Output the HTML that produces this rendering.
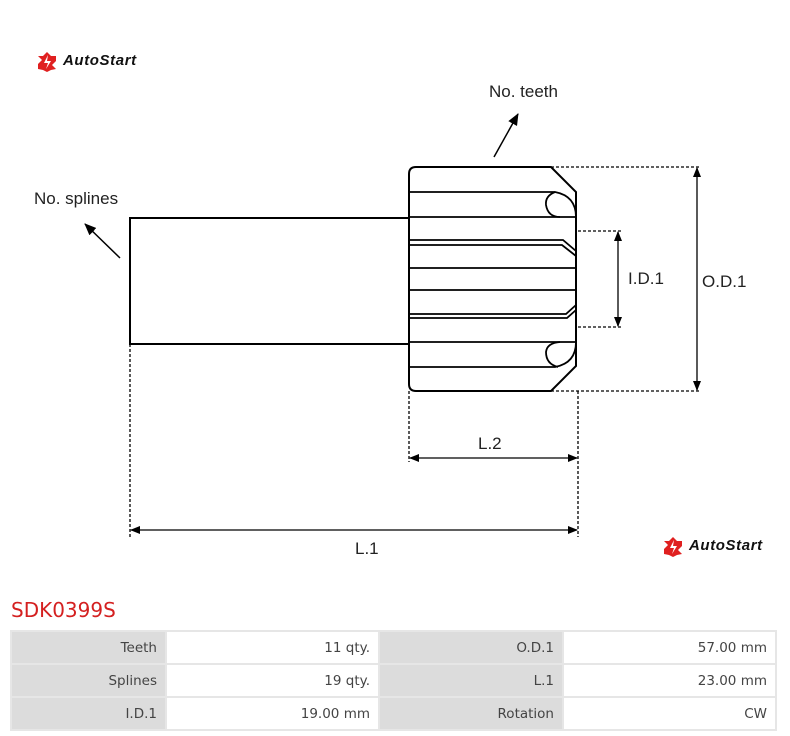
<!DOCTYPE html>
<html><head><meta charset="utf-8"><style>
body{margin:0;width:790px;height:736px;background:#fff;position:relative;overflow:hidden;font-family:"Liberation Sans",sans-serif}
.logo{position:absolute;font-style:italic;font-weight:bold;font-size:15px;color:#111;letter-spacing:0.6px}
.title{position:absolute;left:11px;top:598px;font-family:"DejaVu Sans",sans-serif;font-size:20px;color:#d42020}
table{position:absolute;left:10px;top:630px;width:767px;height:99px;border-collapse:separate;border-spacing:2px;background:#e6e6e6;font-family:"DejaVu Sans",sans-serif;font-size:13.5px;color:#444;table-layout:fixed}
td{text-align:right;padding:0 8px;height:31px}
td.g{background:#dcdcdc}td.w{background:#fff}
</style></head><body>
<svg width="790" height="600" style="position:absolute;left:0;top:0" font-family="Liberation Sans, sans-serif">
<defs><marker id="a" markerWidth="10" markerHeight="8" refX="9" refY="4" orient="auto-start-reverse" markerUnits="userSpaceOnUse"><path d="M0,0L10,4L0,8z" fill="#000"/></marker>
<marker id="b" markerWidth="12" markerHeight="10" refX="11" refY="5" orient="auto" markerUnits="userSpaceOnUse"><path d="M0,0L12,5L0,10z" fill="#000"/></marker></defs>
<g transform="translate(38,52)"><path d="M9,0 L13,4 L18,4 L18,9 L14,13 L18,17 L13,18 L9,20 L5,18 L0,17 L0,12 L4,8 L0,4 L5,4z" fill="#e02020"/><path d="M10,3 L6,11 L10,11 L8,17 L13,9 L9,9z" fill="#fff"/></g>
<g transform="translate(664,537)"><path d="M9,0 L13,4 L18,4 L18,9 L14,13 L18,17 L13,18 L9,20 L5,18 L0,17 L0,12 L4,8 L0,4 L5,4z" fill="#e02020"/><path d="M10,3 L6,11 L10,11 L8,17 L13,9 L9,9z" fill="#fff"/></g>
<g stroke="#000" fill="none">
<path d="M409,218 H130 V344 H409" stroke-width="2"/>
<path d="M416,167 H551 L576,192 V366 L551,391 H416 Q409,391 409,384 V174 Q409,167 416,167z" stroke-width="2"/>
<g stroke-width="1.8">
<path d="M409,192 H555 Q576,196 576,217"/><path d="M555,192 Q545,196 546,205 Q548,217 560,217"/>
<path d="M409,217 H576"/>
<path d="M409,240 H563 L576,251"/><path d="M409,245 H562 L576,256"/>
<path d="M409,268 H576"/><path d="M409,290 H576"/>
<path d="M409,314 H566 L576,305"/><path d="M409,318 H567 L576,310"/>
<path d="M409,342 H576"/>
<path d="M409,367 H555 Q576,363 576,342"/><path d="M560,342 Q547,343 546,352 Q546,364 558,367"/>
</g>
<g stroke-width="1.3" stroke-dasharray="3,2">
<path d="M551,167 H700 M551,391 H700 M578,231 H622 M578,327 H622"/>
<path d="M130,344 V537 M409,391 V462 M578,391 V537"/>
</g>
<g stroke-width="1.3">
<path d="M697,168 V390" marker-start="url(#a)" marker-end="url(#a)"/>
<path d="M618,232 V326" marker-start="url(#a)" marker-end="url(#a)"/>
<path d="M410,458 H577" marker-start="url(#a)" marker-end="url(#a)"/>
<path d="M131,530 H577" marker-start="url(#a)" marker-end="url(#a)"/>
<path d="M120,258 L85,224" stroke-width="1.5" marker-end="url(#b)"/>
<path d="M494,157 L518,114" stroke-width="1.5" marker-end="url(#b)"/>
</g>
</g>
<g font-size="17" fill="#222">
<text x="34" y="204">No. splines</text>
<text x="489" y="97">No. teeth</text>
<text x="628" y="284">I.D.1</text>
<text x="702" y="287">O.D.1</text>
<text x="478" y="449">L.2</text>
<text x="355" y="554">L.1</text>
</g>
</svg>
<div class="logo" style="left:63px;top:52px">AutoStart</div>
<div class="logo" style="left:689px;top:537px">AutoStart</div>
<div class="title">SDK0399S</div>
<table>
<tr><td class="g" style="width:137px">Teeth</td><td class="w" style="width:195px">11 qty.</td><td class="g" style="width:166px">O.D.1</td><td class="w">57.00 mm</td></tr>
<tr><td class="g">Splines</td><td class="w">19 qty.</td><td class="g">L.1</td><td class="w">23.00 mm</td></tr>
<tr><td class="g">I.D.1</td><td class="w">19.00 mm</td><td class="g">Rotation</td><td class="w">CW</td></tr>
</table>
</body></html>
